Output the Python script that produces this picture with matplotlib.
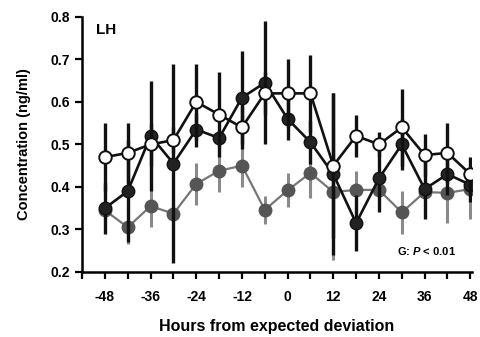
import matplotlib
matplotlib.use("Agg")
import matplotlib.pyplot as plt

plt.rcParams['font.family'] = ['Liberation Sans', 'DejaVu Sans']
plt.rcParams['mathtext.fontset'] = 'custom'
plt.rcParams['mathtext.rm'] = 'Liberation Sans:bold'
plt.rcParams['mathtext.it'] = 'Liberation Sans:italic:bold'

# hours from expected deviation
hours = [-48, -42, -36, -30, -24, -18, -12, -6, 0, 6, 12, 18, 24, 30, 36, 42, 48]

# open circles
open_mean = [0.47, 0.48, 0.50, 0.51, 0.60, 0.57, 0.54, 0.62, 0.62, 0.62, 0.45, 0.52, 0.50, 0.54, 0.475, 0.48, 0.43]
open_err = [0.08, 0.07, 0.05, 0.03, 0.09, 0.10, 0.05, 0.05, 0.08, 0.09, 0.17, 0.05, 0.03, 0.09, 0.05, 0.07, 0.04]

# filled black circles
black_mean = [0.35, 0.39, 0.52, 0.455, 0.535, 0.515, 0.61, 0.645, 0.56, 0.505, 0.43, 0.315, 0.42, 0.50, 0.395, 0.43, 0.405]
black_err = [0.06, 0.12, 0.13, 0.235, 0.04, 0.02, 0.11, 0.145, 0.05, 0.05, 0.19, 0.065, 0.08, 0.06, 0.07, 0.05, 0.04]

# filled grey circles
grey_mean = [0.345, 0.305, 0.355, 0.337, 0.407, 0.438, 0.45, 0.346, 0.392, 0.433, 0.388, 0.393, 0.393, 0.34, 0.388, 0.386, 0.395]
grey_err = [0.04, 0.04, 0.05, 0.04, 0.05, 0.05, 0.05, 0.033, 0.04, 0.06, 0.16, 0.045, 0.045, 0.05, 0.055, 0.07, 0.07]

fig = plt.figure(figsize=(4.8, 3.37), dpi=100)
ax = fig.add_axes([0.171, 0.193, 0.812, 0.757])

# grey series
ax.errorbar(hours, grey_mean, yerr=grey_err, fmt='none', ecolor='#8a8a8a', elinewidth=2.2, zorder=1)
ax.plot(hours, grey_mean, '-o', color='#777777', lw=1.6, markersize=9,
        markerfacecolor='#555555', markeredgecolor='#555555', zorder=2)

# black series
ax.errorbar(hours, black_mean, yerr=black_err, fmt='none', ecolor='#111111', elinewidth=2.4, zorder=3)
ax.plot(hours, black_mean, '-o', color='#111111', lw=1.9, markersize=9,
        markerfacecolor='#222222', markeredgecolor='#111111', zorder=4)

# open series
ax.errorbar(hours, open_mean, yerr=open_err, fmt='none', ecolor='#111111', elinewidth=2.4, zorder=5)
ax.plot(hours, open_mean, '-o', color='#111111', lw=1.9, markersize=9,
        markerfacecolor='white', markeredgecolor='#111111', markeredgewidth=1.4, zorder=6)

ax.set_xlim(-54, 48.4)
ax.set_ylim(0.2, 0.8)
ax.set_xticks(range(-54, 49, 6), minor=True)
ax.set_xticks(range(-48, 49, 12))
ax.set_xticklabels([str(h) for h in range(-48, 49, 12)])
ax.set_yticks([0.2, 0.3, 0.4, 0.5, 0.6, 0.7, 0.8])
ax.set_yticklabels(['0.2', '0.3', '0.4', '0.5', '0.6', '0.7', '0.8'])

for side in ['top', 'right']:
    ax.spines[side].set_visible(False)
for side in ['left', 'bottom']:
    ax.spines[side].set_linewidth(1.8)
ax.tick_params(which='both', direction='out', length=5, width=1.6, labelsize=10)
ax.tick_params(axis='x', which='major', pad=8)
for lab in ax.get_xticklabels() + ax.get_yticklabels():
    lab.set_fontweight('bold')

ax.set_xlabel('Hours from expected deviation', fontsize=11.5, fontweight='bold', labelpad=11)
ax.set_ylabel('Concentration (ng/ml)', fontsize=10.5, fontweight='bold', labelpad=14)

ax.text(0.035, 0.975, 'LH', transform=ax.transAxes, fontsize=11, fontweight='bold', va='top')
ax.text(0.96, 0.065, 'G: $\\it{P}$ < 0.01', transform=ax.transAxes, fontsize=8, fontweight='bold',
        ha='right')

fig.savefig('out.png', dpi=100)
